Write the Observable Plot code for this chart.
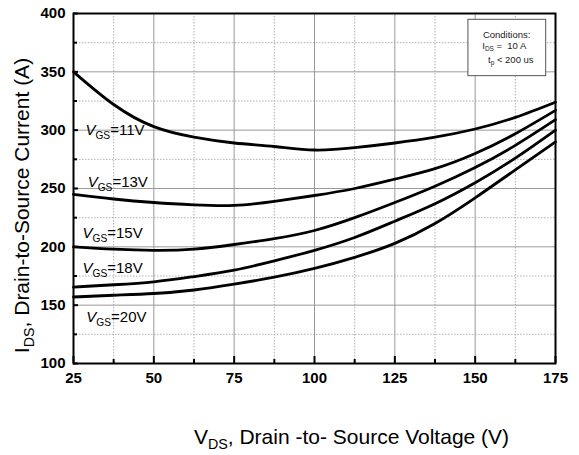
<!DOCTYPE html>
<html><head><meta charset="utf-8">
<script src="https://cdn.jsdelivr.net/npm/d3@7"></script>
<script src="https://cdn.jsdelivr.net/npm/@observablehq/plot@0.6"></script>
<style>body{margin:0;background:#fff}</style>
</head><body><div id="chart"></div>
<script>
// ---- data ----
const vds = [25, 37.5, 50, 62.5, 75, 87.5, 100, 112.5, 125, 137.5, 150, 162.5, 175];
const vgs11 = [350, 322, 303, 294, 289, 286, 283, 285, 289, 294, 301, 311, 324];
const vgs13 = [245, 241, 238, 236, 235.5, 239, 244, 250, 258, 267, 280, 297, 317];
const vgs15 = [200, 198, 197, 198, 202, 207, 214, 225, 238, 252, 268, 287, 309];
const vgs18 = [165.5, 167.5, 170, 174.5, 180, 188, 197, 208, 222, 237, 255, 276, 300];
const vgs20 = [157, 158.5, 160, 163, 168, 174, 181.5, 191, 203, 220, 242, 266, 290];
const seriesNames = ["11V", "13V", "15V", "18V", "20V"];
const seriesValues = [vgs11, vgs13, vgs15, vgs18, vgs20];

const xMajor = [25, 50, 75, 100, 125, 150, 175];
const xMinor = [37.5, 62.5, 87.5, 112.5, 137.5, 162.5];
const yMajor = [100, 150, 200, 250, 300, 350, 400];
const yMinor = [125, 175, 225, 275, 325, 375];

const curveLabels = ["*V*_{GS}=11V", "*V*_{GS}=13V", "*V*_{GS}=15V", "*V*_{GS}=18V", "*V*_{GS}=20V"];
const curveLabelX = [28.7, 29.4, 27.8, 27.8, 29.0];
const curveLabelY = [299.7, 255, 211.4, 181.4, 139.4];

const condBox = {x1: 147.9, x2: 172.1, y1: 346.3, y2: 394.6};
const condLines = ["Conditions:", "I_{DS} =  10 A", "t_{p} < 200 us"];
const condX = [152.4, 152.2, 154.0];
const condY = [382, 372.6, 360.6];

const xTitle = "V_{DS}, Drain -to- Source Voltage (V)";
const yTitle = "I_{DS}, Drain-to-Source Current (A)";

// ---- build table ----
const rows = [];
seriesNames.forEach((s, k) => vds.forEach((x, i) => rows.push({series: s, x, y: seriesValues[k][i]})));
const labelRows = curveLabels.map((t, i) => ({t, x: curveLabelX[i], y: curveLabelY[i]}));
const condRows = condLines.map((t, i) => ({t, x: condX[i], y: condY[i]}));

const W = 579, H = 455, mL = 73, mR = 24, mT = 13, mB = 92;
const fw = W - mL - mR, fh = H - mT - mB;

const chart = Plot.plot({
  width: W, height: H,
  marginLeft: mL, marginRight: mR, marginTop: mT, marginBottom: mB,
  style: {fontFamily: "'Liberation Sans', Arial, sans-serif", background: "#fff", color: "#000"},
  x: {domain: [25, 175]},
  y: {domain: [100, 400]},
  marks: [
    Plot.gridX(xMinor, {stroke: "#b0b0b0", strokeOpacity: 1, strokeDasharray: "1.5,1.5"}),
    Plot.gridY(yMinor, {stroke: "#b0b0b0", strokeOpacity: 1, strokeDasharray: "1.5,1.5"}),
    Plot.gridX(xMajor, {stroke: "#9a9a9a", strokeOpacity: 1}),
    Plot.gridY(yMajor, {stroke: "#9a9a9a", strokeOpacity: 1}),
    Plot.tickX(xMajor, {x: d => d, insetTop: fh - 7, stroke: "#000", strokeWidth: 2}),
    Plot.tickX(xMinor, {x: d => d, insetTop: fh - 4, stroke: "#000", strokeWidth: 2}),
    Plot.tickY(yMajor, {y: d => d, insetRight: fw - 5, stroke: "#000", strokeWidth: 2}),
    Plot.tickY(yMinor, {y: d => d, insetRight: fw - 4, stroke: "#000", strokeWidth: 2}),
    Plot.line(rows, {x: "x", y: "y", z: "series", stroke: "#000", strokeWidth: 2.8, curve: "natural"}),
    Plot.rect([condBox], {x1: "x1", x2: "x2", y1: "y1", y2: "y2", fill: "#fff", stroke: "#555", strokeWidth: 1}),
    Plot.text(condRows, {x: "x", y: "y", text: "t", textAnchor: "start", fontSize: 9.5, fill: "#222"}),
    Plot.text(labelRows, {x: "x", y: "y", text: "t", textAnchor: "start", fontSize: 15, fill: "#000"}),
    Plot.frame({stroke: "#000", strokeWidth: 2}),
    Plot.axisX(xMajor, {tickSize: 0, tickPadding: 9, fontSize: 15, fontWeight: "bold", label: null}),
    Plot.axisY(yMajor, {tickSize: 0, tickPadding: 8, fontSize: 15, fontWeight: "bold", label: null}),
    Plot.text([xTitle], {text: d => d, frameAnchor: "bottom", textAnchor: "middle", lineAnchor: "middle", dx: 37, dy: 73.5, fontSize: 21, fill: "#000"}),
    Plot.text([yTitle], {text: d => d, frameAnchor: "left", textAnchor: "middle", lineAnchor: "middle", rotate: -90, dx: -51, dy: 17, fontSize: 21, fill: "#000"})
  ]
});
document.getElementById("chart").appendChild(chart);

// rich text: *italic* and _{subscript}
function rich(el) {
  const s = el.textContent;
  if (!/_\{|\*/.test(s)) return;
  const fs = parseFloat(getComputedStyle(el).fontSize);
  const parts = s.split(/(\*[^*]+\*|_\{[^}]+\})/).filter(p => p);
  el.textContent = "";
  let shifted = 0;
  for (const p of parts) {
    const t = document.createElementNS("http://www.w3.org/2000/svg", "tspan");
    if (p.startsWith("_{")) {
      t.textContent = p.slice(2, -1);
      t.setAttribute("font-size", (fs * 0.68) + "px");
      t.setAttribute("dy", (fs * 0.25) + "px");
      shifted = fs * 0.25;
    } else {
      if (p.startsWith("*")) { t.textContent = p.slice(1, -1); t.setAttribute("font-style", "italic"); }
      else t.textContent = p;
      if (shifted) { t.setAttribute("dy", (-shifted) + "px"); shifted = 0; }
    }
    t.setAttribute("xml:space", "preserve");
    el.appendChild(t);
  }
}
chart.querySelectorAll("text").forEach(rich);
</script>
</body></html>
